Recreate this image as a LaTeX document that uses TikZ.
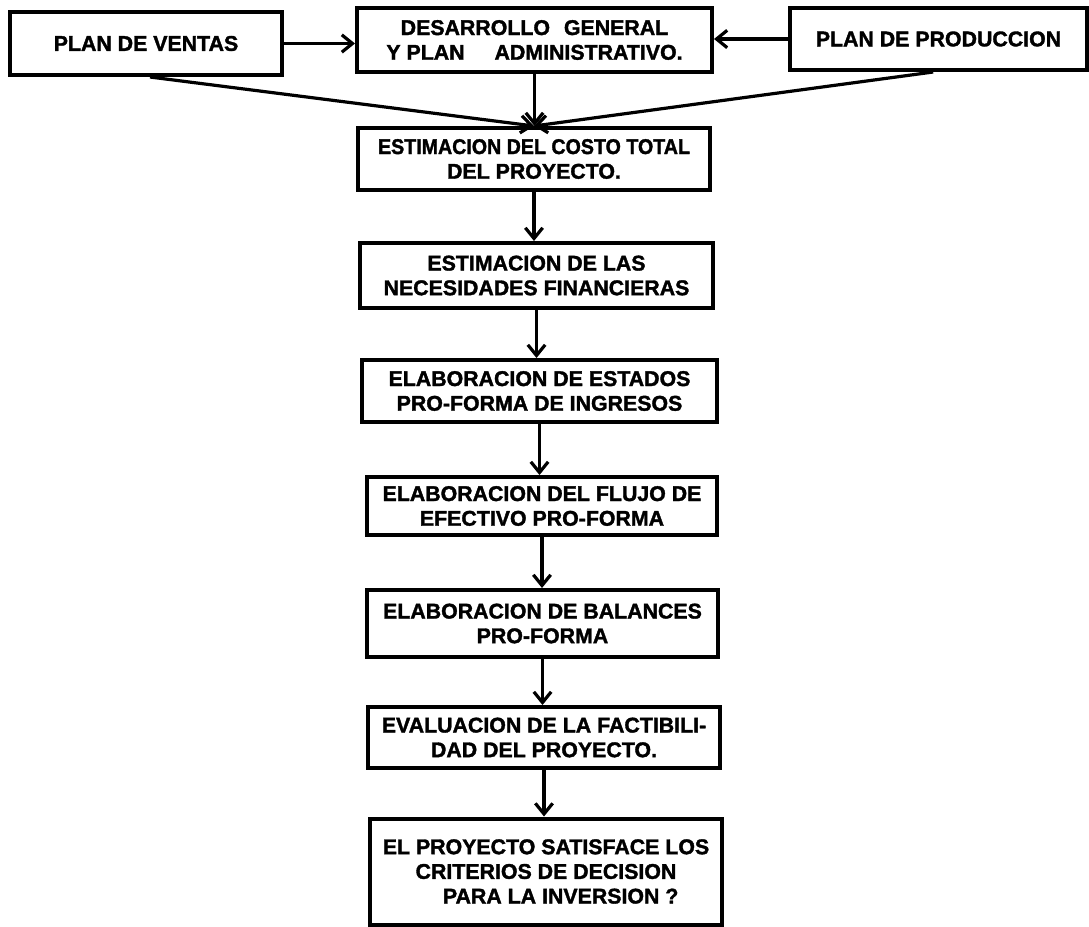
\documentclass[tikz,border=0pt]{standalone}
\usepackage{fontspec}
\setmainfont{Liberation Sans}[BoldFeatures={FakeBold=1.6}]
\usetikzlibrary{arrows.meta}
\tikzset{
  flowbox/.style 2 args={draw=black, line width=3pt, fill=white, align=center,
    minimum width=#1*0.75pt, minimum height=#2*0.75pt, inner sep=2pt,
    font=\fontsize{16}{18.5}\selectfont\bfseries},
  arr/.style={line width=2.4pt, -{Straight Barb[length=8pt,width=13pt,line width=2.4pt]}}
}
\begin{document}
\begin{tikzpicture}[x=0.75pt,y=-0.75pt]
\useasboundingbox[fill=white] (0,0) rectangle (1089,926);
% top row
\node[flowbox={272}{63}] (ventas) at (146,43.5) {PLAN DE VENTAS};
\node[flowbox={355}{64}] (desarrollo) at (534.5,40) {DESARROLLO\hspace{6pt} GENERAL\\Y PLAN\hspace{18pt} ADMINISTRATIVO.};
\node[flowbox={297}{62}] (produccion) at (938.5,39) {PLAN DE PRODUCCION};
% column
\node[flowbox={352}{62}] (costo) at (534,159) {\scalebox{0.92}[1]{ESTIMACION DEL COSTO TOTAL}\\DEL PROYECTO.};
\node[flowbox={353}{65}] (necesidades) at (536.5,275.5) {ESTIMACION DE LAS\\NECESIDADES FINANCIERAS};
\node[flowbox={355}{62}] (ingresos) at (539.5,391) {ELABORACION DE ESTADOS\\PRO-FORMA DE INGRESOS};
\node[flowbox={350}{58}] (flujo) at (542,506) {ELABORACION DEL FLUJO DE\\EFECTIVO PRO-FORMA};
\node[flowbox={351}{67}] (balances) at (542.5,623.5) {ELABORACION DE BALANCES\\PRO-FORMA};
\node[flowbox={352}{61}] (evaluacion) at (544,737.5) {EVALUACION DE LA FACTIBILI-\\DAD DEL PROYECTO.};
\node[flowbox={352}{106}] (decision) at (546,871.5) {EL PROYECTO SATISFACE LOS\\CRITERIOS DE DECISION\\\hspace*{22pt}PARA LA INVERSION ?};
% connectors
\draw[arr] (ventas.east) -- (ventas.east -| desarrollo.west);
\draw[arr] (produccion.west) -- (produccion.west -| desarrollo.east);
\coordinate (vfoot) at ([xshift=3pt]ventas.south);
\coordinate (pfoot) at ([xshift=-4pt]produccion.south);
\draw[arr] (vfoot) -- (costo.north);
\draw[arr] (pfoot) -- (costo.north);
\draw[arr] (desarrollo.south) -- (desarrollo.south |- costo.north);
\draw[arr] (costo.south) -- (costo.south |- necesidades.north);
\draw[arr] (necesidades.south) -- (necesidades.south |- ingresos.north);
\draw[arr] (ingresos.south) -- (ingresos.south |- flujo.north);
\draw[arr] (flujo.south) -- (flujo.south |- balances.north);
\draw[arr] (balances.south) -- (balances.south |- evaluacion.north);
\draw[arr] (evaluacion.south) -- (evaluacion.south |- decision.north);
\end{tikzpicture}
\end{document}
